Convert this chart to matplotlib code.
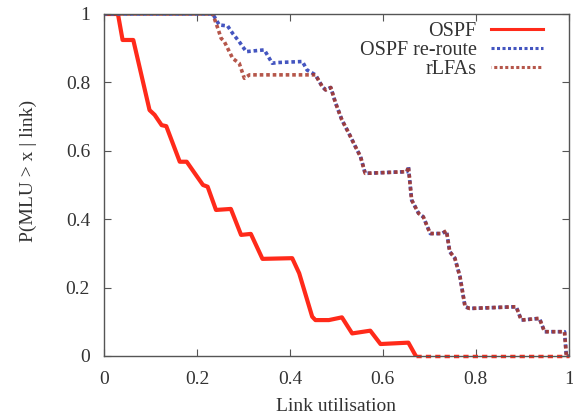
import matplotlib
matplotlib.use("Agg")
import matplotlib.pyplot as plt

# CCDF of max link utilisation
ospf_x = [0.0, 0.03, 0.04, 0.063, 0.098, 0.109, 0.124, 0.134, 0.163, 0.178, 0.198,
          0.213, 0.223, 0.241, 0.273, 0.295, 0.316, 0.341, 0.405, 0.42, 0.448,
          0.455, 0.484, 0.512, 0.534, 0.573, 0.595, 0.655, 0.671]
ospf_y = [1.0, 1.0, 0.924, 0.924, 0.719, 0.705, 0.675, 0.672, 0.568, 0.568, 0.529,
          0.5, 0.495, 0.427, 0.43, 0.354, 0.357, 0.284, 0.286, 0.242, 0.115,
          0.105, 0.105, 0.113, 0.066, 0.074, 0.035, 0.039, 0.0]
ospf_tail_x = [0.671, 1.0]
ospf_tail_y = [0.0, 0.0]

# shared part of both re-route curves
common_x = [0.455, 0.47, 0.477, 0.488, 0.498, 0.512, 0.527, 0.541, 0.552, 0.562,
            0.652, 0.655, 0.662, 0.677, 0.687, 0.702, 0.727, 0.737, 0.744, 0.755,
            0.766, 0.777, 0.787, 0.887, 0.898, 0.937, 0.948, 0.991, 0.995, 1.0]
common_y = [0.822, 0.787, 0.778, 0.785, 0.741, 0.69, 0.651, 0.612, 0.583, 0.534,
            0.539, 0.554, 0.456, 0.417, 0.407, 0.358, 0.358, 0.366, 0.305, 0.286,
            0.232, 0.144, 0.139, 0.144, 0.105, 0.11, 0.071, 0.071, 0.0, 0.0]

reroute_x = [0.0, 0.234, 0.248, 0.266, 0.277, 0.291, 0.306, 0.345, 0.362, 0.373,
             0.427, 0.437] + common_x
reroute_y = [1.0, 1.0, 0.968, 0.965, 0.943, 0.919, 0.89, 0.895, 0.856, 0.858,
             0.861, 0.836] + common_y

rlfa_x = [0.0, 0.234, 0.245, 0.252, 0.259, 0.277, 0.291, 0.302, 0.313, 0.437] + common_x
rlfa_y = [1.0, 1.0, 0.958, 0.929, 0.919, 0.87, 0.856, 0.812, 0.822, 0.822] + common_y

ticks = [0, 0.2, 0.4, 0.6, 0.8, 1]
tick_labels = ['0', '0.2', '0.4', '0.6', '0.8', '1']

plt.rcParams['font.family'] = ['Liberation Serif', 'DejaVu Serif']

fig = plt.figure(figsize=(5.73, 4.2), dpi=100)
ax = fig.add_axes([0.1815, 0.1524, 0.811, 0.8143])

red = '#ff2a1a'
blue = '#4455c0'
dred = '#a8382a'
grey = '#555555'
txt = '#333333'

ax.plot(ospf_x, ospf_y, color=red, lw=3.0, label='OSPF', solid_joinstyle='round')
ax.plot(ospf_tail_x, ospf_tail_y, color=red, lw=2.5, ls=(0, (1.5, 1.2)), clip_on=False)
ax.plot(reroute_x, reroute_y, color=blue, lw=2.6, ls=(0, (1, 0.8)), label='OSPF re-route')
ax.plot(rlfa_x, rlfa_y, color=dred, lw=2.6, ls=(0.9, (1, 0.8)), label='rLFAs', alpha=0.85)

ax.set_xlim(0, 1)
ax.set_ylim(0, 1)
ax.set_xticks(ticks)
ax.set_xticklabels(tick_labels)
ax.set_yticks(ticks)
ax.set_yticklabels(tick_labels)
ax.tick_params(direction='in', top=True, right=True, length=5, width=0.8,
               labelsize=14, color=grey, labelcolor=txt)
ax.tick_params(axis='x', pad=11)
ax.tick_params(axis='y', pad=10)
for s in ax.spines.values():
    s.set_color(grey)
    s.set_linewidth(1.0)

ax.set_xlabel('Link utilisation', fontsize=14, labelpad=7, color=txt)
ax.set_ylabel('P(MLU > x | link)', fontsize=14, labelpad=9, color=txt)
ax.yaxis.set_label_coords(-0.145, 0.54)

leg = ax.legend(loc='upper right', bbox_to_anchor=(0.962, 1.0), frameon=False,
                markerfirst=False, fontsize=14.5, handlelength=2.6,
                handletextpad=0.7, labelspacing=0.0, borderaxespad=0.0)
for t in leg.get_texts():
    t.set_color(txt)
for ln in leg.get_lines():
    ln.set_linewidth(2.2)

fig.savefig('out.png', dpi=100)
